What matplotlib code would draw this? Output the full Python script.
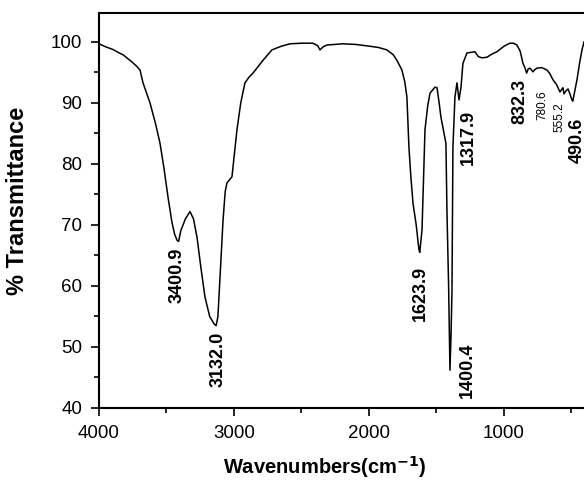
import matplotlib
matplotlib.use("Agg")
import matplotlib.pyplot as plt
from matplotlib.ticker import MultipleLocator

plt.rcParams['font.family'] = ['Liberation Sans', 'DejaVu Sans']

wavenumber = [4000, 3950, 3900, 3850, 3822, 3760, 3720, 3696, 3674, 3650, 3622, 3580, 3548, 3520,
              3489, 3460, 3440, 3422, 3410, 3395, 3360, 3326, 3300, 3274, 3245, 3215, 3180, 3148,
              3132, 3119, 3100, 3081, 3065, 3052, 3015, 3000, 2978, 2950, 2919, 2890, 2859, 2820,
              2785, 2719, 2650, 2585, 2500, 2415, 2380, 2363, 2340, 2311, 2193, 2100, 1993, 1930,
              1867, 1820, 1793, 1756, 1735, 1719, 1704, 1690, 1674, 1650, 1630, 1624, 1607, 1595,
              1585, 1565, 1548, 1511, 1496, 1480, 1467, 1430, 1422, 1410, 1400, 1392, 1385, 1378,
              1363, 1348, 1333, 1318, 1304, 1274, 1215, 1190, 1163, 1126, 1090, 1052, 1000, 956,
              930, 904, 880, 859, 845, 832, 820, 807, 795, 785, 770, 756, 720, 681, 660, 637, 610,
              585, 570, 563, 555, 540, 525, 510, 496, 490, 475, 459, 440, 422, 407]
transmittance = [99.7, 99.2, 98.8, 98.2, 97.9, 96.8, 96.0, 95.4, 93.3, 91.8, 90.0, 86.5, 83.4, 79.5,
                 74.6, 70.5, 68.5, 67.5, 67.3, 69.0, 71.0, 72.2, 71.0, 68.0, 63.0, 58.2, 55.0, 53.8,
                 53.5, 55.0, 63.0, 70.8, 75.5, 76.9, 77.9, 81.0, 85.6, 90.0, 93.3, 94.2, 94.9, 96.0,
                 97.0, 98.7, 99.3, 99.7, 99.8, 99.8, 99.4, 98.7, 99.2, 99.5, 99.7, 99.6, 99.3, 99.1,
                 98.7, 97.9, 97.0, 95.4, 93.5, 91.0, 82.8, 78.0, 73.6, 70.0, 66.0, 65.5, 69.2, 78.0,
                 85.6, 89.5, 91.6, 92.6, 92.5, 90.0, 87.7, 83.4, 72.0, 60.0, 46.2, 52.0, 59.3, 82.8,
                 91.0, 93.3, 90.5, 92.6, 96.5, 98.2, 98.4, 97.6, 97.4, 97.5, 98.0, 98.4, 99.3, 99.8,
                 99.8, 99.5, 98.5, 96.5, 95.8, 94.9, 95.6, 95.7, 95.4, 95.1, 95.5, 95.7, 95.8, 95.4,
                 94.8, 93.8, 93.0, 91.8, 92.3, 92.5, 91.5, 92.0, 92.3, 91.4, 90.5, 90.3, 92.0, 93.8,
                 96.5, 98.7, 100.0]

peak_labels = ["3400.9", "3132.0", "1623.9", "1400.4", "1317.9", "832.3", "780.6", "555.2", "490.6"]
peak_label_x = [3422, 3119, 1622, 1274, 1267, 881, 718, 585, 459]
peak_label_y = [61.8, 47.9, 58.7, 46.2, 84.4, 90.3, 89.7, 87.7, 83.9]
peak_label_bold = [True, True, True, True, True, True, False, False, True]

fig = plt.figure(figsize=(5.84, 4.83), dpi=100)
ax = fig.add_axes([99/584, 1 - 408/483, 1 - 99/584, (408 - 13)/483])
ax.plot(wavenumber, transmittance, color='black', lw=1.1)
ax.set_xlim(4000, 407)
ax.set_ylim(40, 104.75)

ax.xaxis.set_major_locator(MultipleLocator(1000))
ax.xaxis.set_minor_locator(MultipleLocator(500))
ax.yaxis.set_major_locator(MultipleLocator(10))
ax.yaxis.set_minor_locator(MultipleLocator(5))
ax.tick_params(which='major', direction='out', length=6, width=1.2, labelsize=13.5, pad=6)
ax.tick_params(which='minor', direction='out', length=3.5, width=1.2)
ax.spines['right'].set_visible(False)
for s in ['left', 'bottom', 'top']:
    ax.spines[s].set_linewidth(1.5)

for txt, x, y, b in zip(peak_labels, peak_label_x, peak_label_y, peak_label_bold):
    ax.text(x, y, txt, rotation=90, ha='center', va='center',
            fontsize=13 if b else 8.5, fontweight='bold' if b else 'normal')

fig.text(18/584, 1 - 201/483, '% Transmittance', rotation=90, ha='center', va='center',
         fontsize=17, fontweight='bold')
fig.text(325/584, 1 - 467/483, r'Wavenumbers(cm$^{\mathbf{-1}}$)', ha='center', va='center',
         fontsize=14.5, fontweight='bold')

fig.savefig('out.png', dpi=100)
